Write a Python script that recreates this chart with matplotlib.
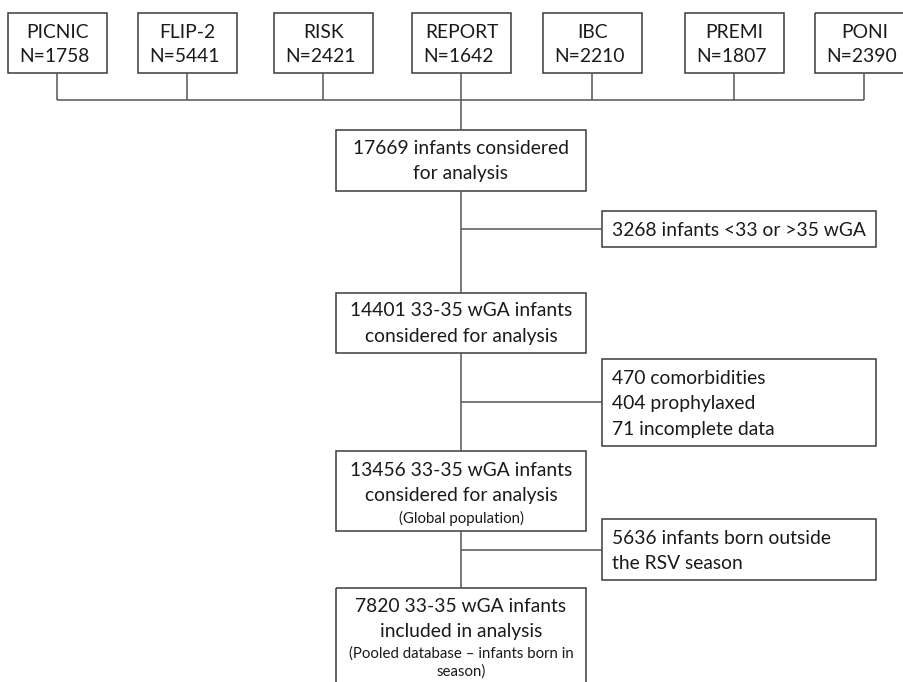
"""Flow chart of infants included in the pooled 33-35 wGA analysis."""

import matplotlib
matplotlib.use("Agg")
import matplotlib.pyplot as plt
from matplotlib.patches import Rectangle

# --- data -------------------------------------------------------------
studies = ["PICNIC", "FLIP-2", "RISK", "REPORT", "IBC", "PREMI", "PONI"]
study_n = [1758, 5441, 2421, 1642, 2210, 1807, 2390]

main_steps = [
    ["17669 infants considered", "for analysis"],
    ["14401 33-35 wGA infants", "considered for analysis"],
    ["13456 33-35 wGA infants", "considered for analysis"],
    ["7820 33-35 wGA infants", "included in analysis"],
]
main_notes = [None, None, ["(Global population)"],
              ["(Pooled database \u2013 infants born in", "season)"]]
exclusions = [
    ["3268 infants <33 or >35 wGA"],
    ["470 comorbidities", "404 prophylaxed", "71 incomplete data"],
    ["5636 infants born outside", "the RSV season"],
]

# --- layout (pixel coords, y pointing down) ----------------------------
study_x0 = [8, 138, 274, 412, 543, 685, 815]
study_w = 99
study_y0, study_y1 = 13, 73
join_y = 100

main_x0, main_x1 = 336, 586
main_cx = 461
main_y = [(130, 191), (293, 353), (451, 531), (588, 700)]
main_line1 = [148, 311, 470, 606]

side_x0, side_x1 = 602, 876
side_y = [(211, 247), (359, 446), (519, 580)]
side_link_y = [229, 402, 550]
side_line1 = [230, 378, 538]

EDGE = "#3a3a3a"
LINE = "#555555"
TXT = "#1a1a1a"
FONT = "Lato"
BIG = 13.9
SMALL = 10.8
STEP = 25.5

fig = plt.figure(figsize=(9.04, 6.82), dpi=100)
ax = fig.add_axes([0, 0, 1, 1])
ax.set_xlim(0, 904)
ax.set_ylim(682, 0)
ax.axis("off")


def box(x0, y0, x1, y1):
    ax.add_patch(Rectangle((x0, y0), x1 - x0, y1 - y0, fill=False,
                           edgecolor=EDGE, linewidth=1.1))


def line(xs, ys):
    ax.plot(xs, ys, color=LINE, linewidth=1.1, solid_capstyle="butt")


# study boxes along the top
for name, n, x0 in zip(studies, study_n, study_x0):
    box(x0, study_y0, x0 + study_w, study_y1)
    cx = x0 + study_w / 2
    ax.text(cx, 32, name, ha="center", va="center", fontsize=BIG,
            family=FONT, color=TXT)
    ax.text(cx - 3, 57, f"N={n}", ha="center", va="center", fontsize=BIG,
            family=FONT, color=TXT)
    line([cx, cx], [study_y1, join_y])
line([study_x0[0] + study_w / 2, study_x0[-1] + study_w / 2], [join_y, join_y])
line([main_cx, main_cx], [join_y, main_y[0][0]])

# main column
for i, (lines, note) in enumerate(zip(main_steps, main_notes)):
    y0, y1 = main_y[i]
    box(main_x0, y0, main_x1, y1)
    y = main_line1[i]
    for t in lines:
        ax.text(main_cx, y, t, ha="center", va="center", fontsize=BIG,
                family=FONT, color=TXT)
        y += STEP
    if note:
        y -= 3
        for t in note:
            ax.text(main_cx, y, t, ha="center", va="center", fontsize=SMALL,
                    family=FONT, color=TXT)
            y += 18
    if i < len(main_y) - 1:
        line([main_cx, main_cx], [y1, main_y[i + 1][0]])

# exclusion boxes on the right
for i, lines in enumerate(exclusions):
    y0, y1 = side_y[i]
    box(side_x0, y0, side_x1, y1)
    line([main_cx, side_x0], [side_link_y[i], side_link_y[i]])
    y = side_line1[i]
    for t in lines:
        ax.text(612, y, t, ha="left", va="center", fontsize=BIG,
                family=FONT, color=TXT)
        y += STEP

fig.savefig("out.png", dpi=100)
plt.close(fig)
